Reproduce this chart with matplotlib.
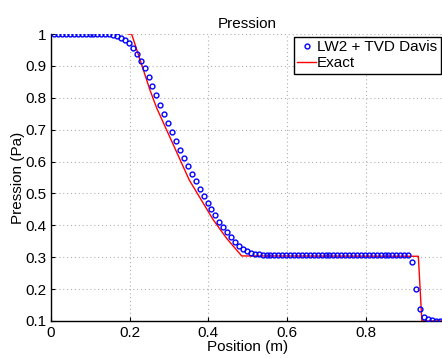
import numpy as np
import matplotlib
matplotlib.use("Agg")
import matplotlib.pyplot as plt

plt.rcParams['font.family'] = ['Liberation Sans', 'DejaVu Sans']

# numerical solution (100 cells)
x_num = np.linspace(0.008, 0.998, 100)
p_num = [1.0] * 14 + [
    0.999, 0.997, 0.993, 0.987, 0.980, 0.971, 0.956, 0.937, 0.916, 0.892,
    0.864, 0.836, 0.808, 0.778, 0.749, 0.720, 0.692, 0.664, 0.637, 0.612,
    0.586, 0.562, 0.538, 0.515, 0.493, 0.471, 0.451, 0.431, 0.412, 0.395,
    0.378, 0.362, 0.349, 0.336, 0.326, 0.319, 0.313, 0.311, 0.309, 0.308,
    0.307] + [0.306] * 36 + [
    0.285, 0.200, 0.137, 0.112, 0.105, 0.102, 0.101, 0.100, 0.100]

# exact solution
x_ex = [0.1965, 0.205, 0.2517, 0.2687, 0.3516, 0.4127, 0.4467, 0.4849, 0.934, 0.943, 1.0]
p_ex = [1.0, 1.0, 0.824, 0.768, 0.542, 0.417, 0.359, 0.304, 0.303, 0.1, 0.1]

xticks = [0, 0.2, 0.4, 0.6, 0.8, 1]
xticklabels = ['0', '0.2', '0.4', '0.6', '0.8', '']
yticks = [0.1, 0.2, 0.3, 0.4, 0.5, 0.6, 0.7, 0.8, 0.9, 1]
yticklabels = ['0.1', '0.2', '0.3', '0.4', '0.5', '0.6', '0.7', '0.8', '0.9', '1']

fig = plt.figure(figsize=(4.42, 3.58), dpi=100)
ax = fig.add_axes([51 / 442, 37 / 358, 393.3 / 442, 287 / 358])

ax.plot(x_num, p_num, 'o', color=(0, 0, 1), markerfacecolor='none',
        markersize=3.5, markeredgewidth=1.0, label='LW2 + TVD Davis', zorder=3)
ax.plot(x_ex, p_ex, '-', color=(1, 0, 0), linewidth=1.0, label='Exact', zorder=2)

ax.set_xlim(0, 1)
ax.set_ylim(0.1, 1)
ax.set_xticks(xticks)
ax.set_xticklabels(xticklabels)
ax.set_yticks(yticks)
ax.set_yticklabels(yticklabels)
ax.tick_params(direction='in', length=3, labelsize=11, width=0.8)
ax.grid(True, linestyle=(0, (1, 2.5)), color='#b0b0b0', linewidth=0.8)
ax.spines['top'].set_visible(False)
ax.spines['right'].set_visible(False)
ax.spines['left'].set_linewidth(1.0)
ax.spines['bottom'].set_linewidth(1.0)

ax.set_title('Pression', fontsize=11, pad=4)
ax.set_xlabel('Position (m)', fontsize=11, labelpad=0)
ax.set_ylabel('Pression (Pa)', fontsize=11, labelpad=0)

leg = ax.legend(loc='upper left', bbox_to_anchor=(243 / 393.3, 1.0 - 3 / 287),
                fontsize=11, fancybox=False, framealpha=1, edgecolor='black',
                borderpad=0.22, handlelength=1.2, handletextpad=0.1,
                labelspacing=0.12, borderaxespad=0)
leg.get_frame().set_linewidth(1.0)

fig.savefig('out.png', dpi=100)
